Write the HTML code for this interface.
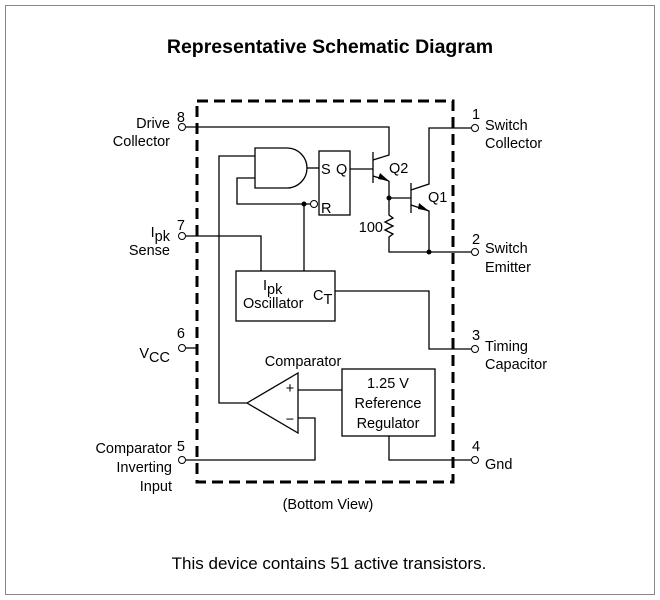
<!DOCTYPE html>
<html><head><style>
html,body{margin:0;padding:0;background:#fff;}
svg{display:block;}
text{font-family:"Liberation Sans",Arial,sans-serif;fill:#000;}
</style></head><body>
<svg width="660" height="600" viewBox="0 0 660 600" xmlns="http://www.w3.org/2000/svg">
<rect x="5.5" y="5.5" width="649" height="589" fill="#fff" stroke="#888" stroke-width="1"/>
<text x="330" y="53" font-size="19.5" font-weight="bold" text-anchor="middle">Representative Schematic Diagram</text>

<rect x="197" y="101" width="256" height="381" fill="none" stroke="#000" stroke-width="3" stroke-dasharray="11,6"/>

<g fill="none" stroke="#000" stroke-width="1.3">
<polyline points="186,127 389,127 389,155 373,160"/>
<line x1="373" y1="152" x2="373" y2="183"/>
<line x1="350" y1="169" x2="373" y2="169"/>
<line x1="373" y1="176" x2="389" y2="181"/>
<polyline points="389,181 389,198"/>
<line x1="389" y1="198" x2="411" y2="198"/>
<line x1="411" y1="183" x2="411" y2="213"/>
<polyline points="411,190 429,184 429,128 471,128"/>
<polyline points="411,205 429,211 429,252"/>
<polyline points="389,198 389,215 393,218 385,222 393,226 385,230 393,234 389,237 389,252 471,252"/>
<path d="M255,148 L287,148 A20,20 0 0 1 287,188 L255,188 Z"/>
<line x1="307" y1="168" x2="319" y2="168"/>
<rect x="319" y="151" width="31" height="64"/>
<polyline points="255,156 219,156 219,403 247,403"/>
<polyline points="255,178 237,178 237,204 310,204"/>
<line x1="304" y1="204" x2="304" y2="271"/>
<rect x="236" y="271" width="99" height="50"/>
<polyline points="186,236 261,236 261,271"/>
<polyline points="335,291 429,291 429,349 471,349"/>
<line x1="186" y1="348" x2="197" y2="348"/>
<polygon points="247,403 298,373 298,433"/>
<line x1="298" y1="390" x2="342" y2="390"/>
<rect x="342" y="369" width="93" height="67"/>
<polyline points="298,418 315,418 315,460 186,460"/>
<polyline points="389,436 389,460 471,460"/>
</g>
<polygon points="389,181 380,173 378,179" fill="#000"/>
<polygon points="429,211 419,203 418,209" fill="#000"/>
<circle cx="389" cy="198" r="2.5" fill="#000"/>
<circle cx="429" cy="252" r="2.5" fill="#000"/>
<circle cx="304" cy="204" r="2.5" fill="#000"/>
<g fill="#fff" stroke="#000" stroke-width="1">
<circle cx="314" cy="204" r="3.5"/>
<circle cx="182" cy="127" r="3.5"/>
<circle cx="182" cy="236" r="3.5"/>
<circle cx="182" cy="348" r="3.5"/>
<circle cx="182" cy="460" r="3.5"/>
<circle cx="475" cy="128" r="3.5"/>
<circle cx="475" cy="252" r="3.5"/>
<circle cx="475" cy="349" r="3.5"/>
<circle cx="475" cy="460" r="3.5"/>
</g>

<g font-size="14.5">
<text x="321" y="174">S</text>
<text x="336" y="174">Q</text>
<text x="321" y="213">R</text>
<text x="389" y="173">Q2</text>
<text x="428" y="202">Q1</text>
<text x="383" y="232" text-anchor="end">100</text>
<text x="263" y="290">I<tspan dy="4">pk</tspan></text>
<text x="243" y="308">Oscillator</text>
<text x="313" y="300">C<tspan dy="4">T</tspan></text>
<text x="303" y="366" text-anchor="middle">Comparator</text>
<text x="290" y="393" text-anchor="middle">+</text>
<text x="290" y="424" text-anchor="middle">−</text>
<text x="388" y="388" text-anchor="middle">1.25 V</text>
<text x="388" y="408" text-anchor="middle">Reference</text>
<text x="388" y="428" text-anchor="middle">Regulator</text>

<text x="185" y="122" text-anchor="end">8</text>
<text x="170" y="128" text-anchor="end">Drive</text>
<text x="170" y="146" text-anchor="end">Collector</text>
<text x="185" y="230" text-anchor="end">7</text>
<text x="170" y="237" text-anchor="end">I<tspan dy="4">pk</tspan></text>
<text x="170" y="255" text-anchor="end">Sense</text>
<text x="185" y="338" text-anchor="end">6</text>
<text x="170" y="358" text-anchor="end">V<tspan dy="4">CC</tspan></text>
<text x="185" y="451" text-anchor="end">5</text>
<text x="172" y="453" text-anchor="end">Comparator</text>
<text x="172" y="472" text-anchor="end">Inverting</text>
<text x="172" y="491" text-anchor="end">Input</text>

<text x="472" y="119">1</text>
<text x="485" y="130">Switch</text>
<text x="485" y="148">Collector</text>
<text x="472" y="244">2</text>
<text x="485" y="253">Switch</text>
<text x="485" y="272">Emitter</text>
<text x="472" y="340">3</text>
<text x="485" y="351">Timing</text>
<text x="485" y="369">Capacitor</text>
<text x="472" y="451">4</text>
<text x="485" y="469">Gnd</text>

<text x="328" y="509" text-anchor="middle">(Bottom View)</text>
</g>
<text x="329" y="569" font-size="17" text-anchor="middle">This device contains 51 active transistors.</text>
</svg>
</body></html>
